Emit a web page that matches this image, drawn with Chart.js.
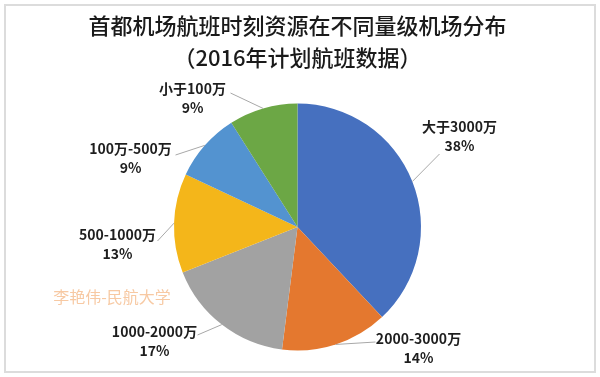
<!DOCTYPE html>
<html>
<head>
<meta charset="utf-8">
<script src="https://cdn.jsdelivr.net/npm/chart.js@4"></script>
<style>
  html, body { margin: 0; padding: 0; background: #fff; }
  #wrap { position: relative; width: 600px; height: 377px; }
  #frame { position: absolute; left: 4px; top: 4px; width: 588px; height: 365px; border: 2px solid #dcdcdc; }
  canvas { position: absolute; left: 0; top: 0; }
</style>
</head>
<body>
<div id="wrap">
  <div id="frame"></div>
  <canvas id="chart" width="600" height="377"></canvas>
</div>
<script>
// 2016年计划航班数据
const categories = ["大于3000万", "2000-3000万", "1000-2000万", "500-1000万", "100万-500万", "小于100万"]
const shares = [38, 14, 17, 13, 9, 9]
const colors = ["#4670bf", "#e4782f", "#a2a2a2", "#f4b61a", "#5393d0", "#6ca745"]

// label centre and leader end, relative to the pie centre (px)
const labelPos = [[162, -100], [121, 112], [-143, 105], [-180, 8], [-167, -78], [-105, -138]]
const leaderEnd = [[142, -73], [78, 115], [-100, 108], [-140, 14], [-122, -72], [-67, -134]]

const labelsPlugin = {
  id: "pieLabels",
  afterDraw(chart) {
    const ctx = chart.ctx
    const arcs = chart.getDatasetMeta(0).data
    ctx.save()
    // watermark
    ctx.font = "16px 'Noto Sans CJK SC'"
    ctx.fillStyle = "#f7c9a3"
    ctx.textAlign = "center"
    ctx.textBaseline = "middle"
    ctx.fillText("李艳伟-民航大学", 112, 297)

    arcs.forEach((arc, i) => {
      const p = arc.getProps(["x", "y", "startAngle", "endAngle", "outerRadius"], true)
      const mid = (p.startAngle + p.endAngle) / 2
      const sx = p.x + Math.cos(mid) * p.outerRadius
      const sy = p.y + Math.sin(mid) * p.outerRadius
      ctx.strokeStyle = "#a8a8a8"
      ctx.lineWidth = 1
      ctx.beginPath()
      ctx.moveTo(sx, sy)
      ctx.lineTo(p.x + leaderEnd[i][0], p.y + leaderEnd[i][1])
      ctx.stroke()

      const lx = p.x + labelPos[i][0]
      const ly = p.y + labelPos[i][1]
      ctx.fillStyle = "#1e1e1e"
      ctx.font = "bold 14px 'Noto Sans CJK SC'"
      ctx.fillText(categories[i], lx, ly)
      ctx.fillText(shares[i] + "%", lx, ly + 19)
    })
    ctx.restore()
  }
}

new Chart(document.getElementById("chart"), {
  type: "pie",
  data: {
    labels: categories,
    datasets: [{
      data: shares,
      backgroundColor: colors,
      borderWidth: 0
    }]
  },
  options: {
    responsive: false,
    animation: false,
    layout: { padding: { top: 0, bottom: 26.5, left: 0, right: 5 } },
    plugins: {
      legend: { display: false },
      tooltip: { enabled: false },
      title: {
        display: true,
        text: ["首都机场航班时刻资源在不同量级机场分布", "（2016年计划航班数据）"],
        color: "#1a1a1a",
        font: { family: "'Noto Sans CJK SC'", size: 22, weight: "500", lineHeight: 1.45 },
        padding: { top: 10, bottom: 29.7 }
      }
    }
  },
  plugins: [labelsPlugin]
})
</script>
</body>
</html>
